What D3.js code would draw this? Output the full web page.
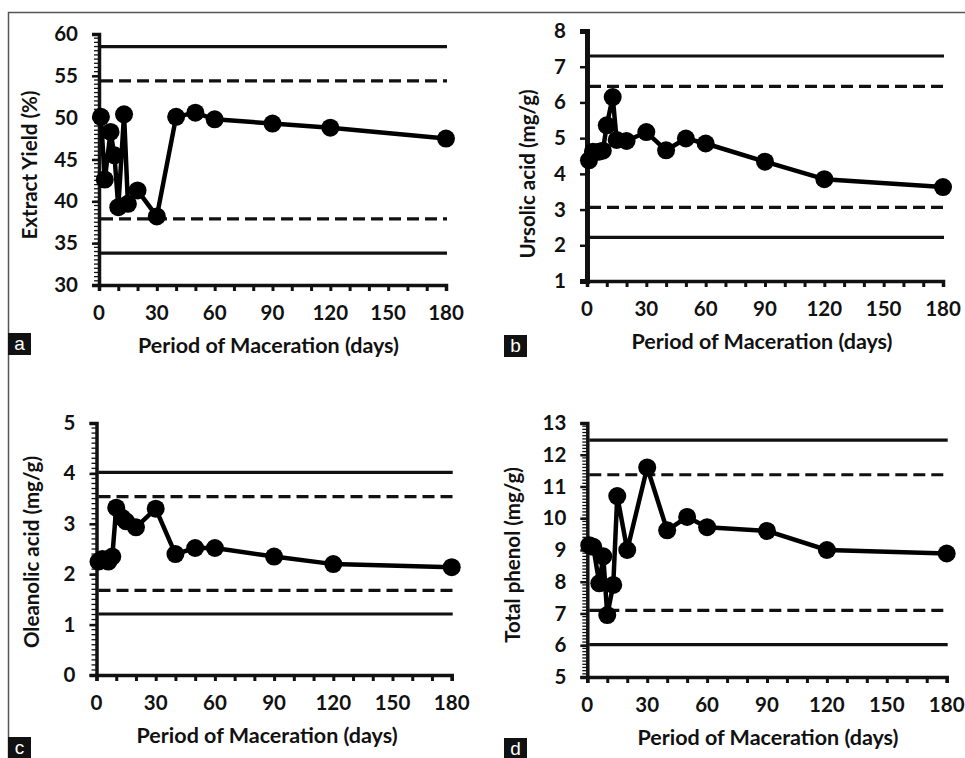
<!DOCTYPE html>
<html>
<head>
<meta charset="utf-8">
<script src="https://cdn.jsdelivr.net/npm/d3@7"></script>
<style>
  body { margin: 0; background: #fff; }
  svg text { font-family: Lato, "Open Sans", sans-serif; font-weight: 700; fill: #111; }
</style>
</head>
<body>
<div id="chart"></div>
<script>
var width = 965,
    height = 758;

// sampling days
var days = [1, 3, 6, 8, 10, 13, 15, 20, 30, 40, 50, 60, 90, 120, 180];
var xTicks = [0, 30, 60, 90, 120, 150, 180];

var extractYield  = [50.1, 42.6, 48.3, 45.5, 39.3, 50.4, 39.7, 41.3, 38.2, 50.1, 50.6, 49.8, 49.3, 48.8, 47.5];
var ursolicAcid   = [4.38, 4.62, 4.62, 4.65, 5.36, 6.15, 4.95, 4.92, 5.17, 4.66, 4.99, 4.85, 4.34, 3.85, 3.63];
var oleanolicAcid = [2.25, 2.30, 2.25, 2.35, 3.32, 3.12, 3.05, 2.93, 3.30, 2.40, 2.52, 2.52, 2.35, 2.20, 2.14];
var totalPhenol   = [9.15, 9.10, 7.95, 8.80, 6.95, 7.90, 10.70, 9.00, 11.60, 9.62, 10.04, 9.72, 9.60, 9.00, 8.89];

// control limits: [lower, upper]
var yieldSolid = [33.8, 58.5],   yieldDashed = [37.9, 54.4];
var ursolicSolid = [2.22, 7.30], ursolicDashed = [3.06, 6.45];
var oleanolicSolid = [1.21, 4.02], oleanolicDashed = [1.68, 3.54];
var phenolSolid = [6.02, 12.46], phenolDashed = [7.10, 11.37];

var yieldTicks = [30, 35, 40, 45, 50, 55, 60];
var ursolicTicks = [1, 2, 3, 4, 5, 6, 7, 8];
var oleanolicTicks = [0, 1, 2, 3, 4, 5];
var phenolTicks = [5, 6, 7, 8, 9, 10, 11, 12, 13];

var svg = d3.select("#chart")
    .append("svg")
    .attr("width", width)
    .attr("height", height);

/** outer frame of the figure **/
svg.append("path")
    .attr("d", "M8.5," + height + "V12.5H" + width)
    .attr("fill", "none")
    .attr("stroke", "#555")
    .attr("stroke-width", 1.5);

function drawPanel(p) {
    var x = d3.scaleLinear().domain([0, 180]).range([p.x0, p.x1]);
    var y = d3.scaleLinear().domain(d3.extent(p.yTicks)).range([p.yBot, p.yTop]);
    var g = svg.append("g");

    // minor ticks on the y axis
    if (p.minor) {
        var lo = d3.min(p.yTicks), hi = d3.max(p.yTicks);
        var minors = d3.range(Math.round((hi - lo) / p.minor) + 1).map(function(i) { return lo + i * p.minor; });
        g.selectAll(".ymin").data(minors).enter().append("line")
            .attr("x1", p.x0 - 5).attr("x2", p.x0)
            .attr("y1", function(d) { return y(d); })
            .attr("y2", function(d) { return y(d); })
            .attr("stroke", "#111").attr("stroke-width", 1.3);
    }

    // y axis
    var yAxis = d3.axisLeft(y).tickValues(p.yTicks).tickFormat(d3.format("d")).tickSize(7).tickPadding(14);
    var ya = g.append("g")
        .attr("transform", "translate(" + p.x0 + ",0)")
        .call(yAxis);
    ya.select(".domain").attr("stroke", "#111").attr("stroke-width", p.axisW);
    ya.selectAll(".tick line").attr("stroke", "#111").attr("stroke-width", 2.5);
    ya.selectAll(".tick text").attr("font-size", 20.5).attr("fill", "#111")
        .style("font-family", "Lato, sans-serif").style("font-weight", 700);

    // x axis: small ticks every 10 days, labels every 30
    var xa = g.append("g")
        .attr("transform", "translate(0," + p.yBot + ")")
        .call(d3.axisBottom(x).tickValues(d3.range(0, 181, 10)).tickSize(6).tickFormat(""));
    xa.select(".domain").attr("stroke", "#111").attr("stroke-width", 3.5);
    xa.selectAll(".tick line").attr("stroke", "#111").attr("stroke-width", 3);

    g.selectAll(".xlab").data(xTicks).enter().append("text")
        .attr("x", function(d) { return x(d); })
        .attr("y", p.yBot + 35)
        .attr("text-anchor", "middle")
        .attr("font-size", 20.5)
        .text(function(d) { return d; });

    // control limit lines
    var limits = p.solid.map(function(v) { return {v: v, dash: null}; })
        .concat(p.dashed.map(function(v) { return {v: v, dash: "12,6"}; }));
    g.selectAll(".limit").data(limits).enter().append("line")
        .attr("x1", p.x0 + 2).attr("x2", p.x1 + 1)
        .attr("y1", function(d) { return y(d.v); })
        .attr("y2", function(d) { return y(d.v); })
        .attr("stroke", "#111")
        .attr("stroke-width", 3.2)
        .attr("stroke-dasharray", function(d) { return d.dash; });

    // data line and markers
    var pts = days.map(function(d, i) { return [d, p.values[i]]; });
    g.append("path")
        .datum(pts)
        .attr("fill", "none")
        .attr("stroke", "#000")
        .attr("stroke-width", 4.5)
        .attr("stroke-linejoin", "round")
        .attr("d", d3.line().x(function(d) { return x(d[0]); }).y(function(d) { return y(d[1]); }));
    g.selectAll(".pt").data(pts).enter().append("circle")
        .attr("cx", function(d) { return x(d[0]); })
        .attr("cy", function(d) { return y(d[1]); })
        .attr("r", 9)
        .attr("fill", "#000");

    // axis titles
    g.append("text")
        .attr("x", (p.x0 + p.x1) / 2 + p.xTitleShift)
        .attr("y", p.yBot + 68)
        .attr("text-anchor", "middle")
        .attr("font-size", 21.5)
        .text("Period of Maceration (days)");
    g.append("text")
        .attr("transform", "translate(" + p.yTitleX + "," + p.yTitleY + ") rotate(-90)")
        .attr("text-anchor", "middle")
        .attr("dy", "0.35em")
        .attr("font-size", 20.5)
        .text(p.title);

    // panel letter
    g.append("rect")
        .attr("x", p.box[0]).attr("y", p.box[1])
        .attr("width", 23).attr("height", 22)
        .attr("fill", "#111");
    g.append("text")
        .attr("x", p.box[0] + 11.5).attr("y", p.box[1] + 17)
        .attr("text-anchor", "middle")
        .attr("font-size", 19)
        .style("font-family", "'Liberation Sans', Arial, sans-serif")
        .style("font-weight", 400)
        .style("fill", "#fff")
        .text(p.letter);
}

drawPanel({x0: 99, x1: 446, yTop: 34, yBot: 285, yTicks: yieldTicks, minor: 0.5, axisW: 3.5,
    values: extractYield, solid: yieldSolid, dashed: yieldDashed,
    title: "Extract Yield (%)", yTitleX: 30, yTitleY: 165, xTitleShift: -4,
    box: [8, 333], letter: "a"});

drawPanel({x0: 587, x1: 943, yTop: 31, yBot: 281, yTicks: ursolicTicks, minor: 0, axisW: 5,
    values: ursolicAcid, solid: ursolicSolid, dashed: ursolicDashed,
    title: "Ursolic acid (mg/g)", yTitleX: 528, yTitleY: 174, xTitleShift: -3,
    box: [504, 335], letter: "b"});

drawPanel({x0: 96.5, x1: 451.7, yTop: 423, yBot: 675, yTicks: oleanolicTicks, minor: 0.1, axisW: 3.5,
    values: oleanolicAcid, solid: oleanolicSolid, dashed: oleanolicDashed,
    title: "Oleanolic acid (mg/g)", yTitleX: 32, yTitleY: 552, xTitleShift: -7,
    box: [8, 737], letter: "c"});

drawPanel({x0: 587.3, x1: 946.7, yTop: 423, yBot: 677, yTicks: phenolTicks, minor: 0.1, axisW: 3.5,
    values: totalPhenol, solid: phenolSolid, dashed: phenolDashed,
    title: "Total phenol (mg/g)", yTitleX: 513, yTitleY: 555, xTitleShift: 1,
    box: [504, 738], letter: "d"});
</script>
</body>
</html>
